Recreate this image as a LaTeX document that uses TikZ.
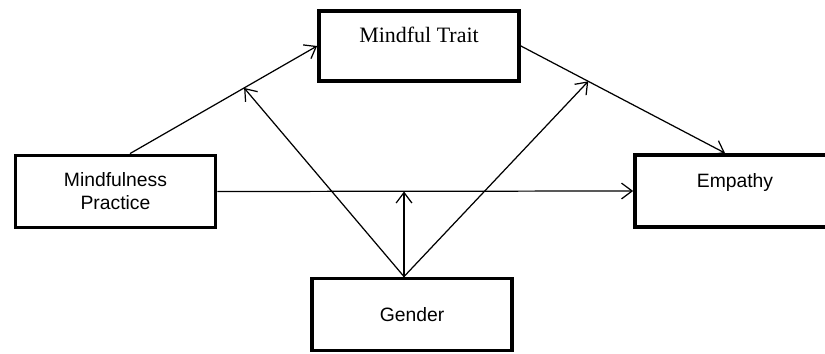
\documentclass[tikz,border=0pt]{standalone}
\usepackage{fontspec}
\setmainfont{Liberation Sans}
\newfontfamily\traitfont{Liberation Serif}
\usetikzlibrary{arrows.meta}
\usetikzlibrary{calc}

\begin{document}
\begin{tikzpicture}[x=0.02cm,y=-0.02cm,>={Straight Barb[length=6pt,width=9pt]},
        box/.style={draw,line width=2.2pt,minimum width=4cm,minimum height=1.44cm,
            inner sep=0pt,align=center,font=\fontsize{11}{13}\selectfont},
        raised/.style={text height=8pt,text depth=12pt},
        link/.style={->,line width=0.7pt}]
        \useasboundingbox (0,0) rectangle (825,354);
        \clip (0,0) rectangle (825,354);
        \node[box,raised,minimum height=1.4cm,font=\traitfont\fontsize{12.5}{15}\selectfont] (MT) at (419,46) {Mindful Trait};
        \node[box] (MP) at (115.5,191.5) {Mindfulness\\Practice};
        \node[box,raised] (E) at (735,191) {Empathy};
        \node[box] (G) at (412,314.5) {Gender};
        \coordinate (g) at ([xshift=-0.16cm]G.north);
        \draw[link] ([xshift=0.29cm]MP.north) -- coordinate[pos=0.61] (ma) (MT.west);
        \draw[link] (MT.east) -- coordinate[pos=0.33] (mb) ([xshift=-0.2cm]E.north);
        \draw[link] (MP.east) -- (E.west);
        \draw[link] (g) -- (ma);
        \draw[link] (g) -- (mb);
        \draw[link] (g) -- (g |- MP.east);
    \end{tikzpicture}
\end{document}
